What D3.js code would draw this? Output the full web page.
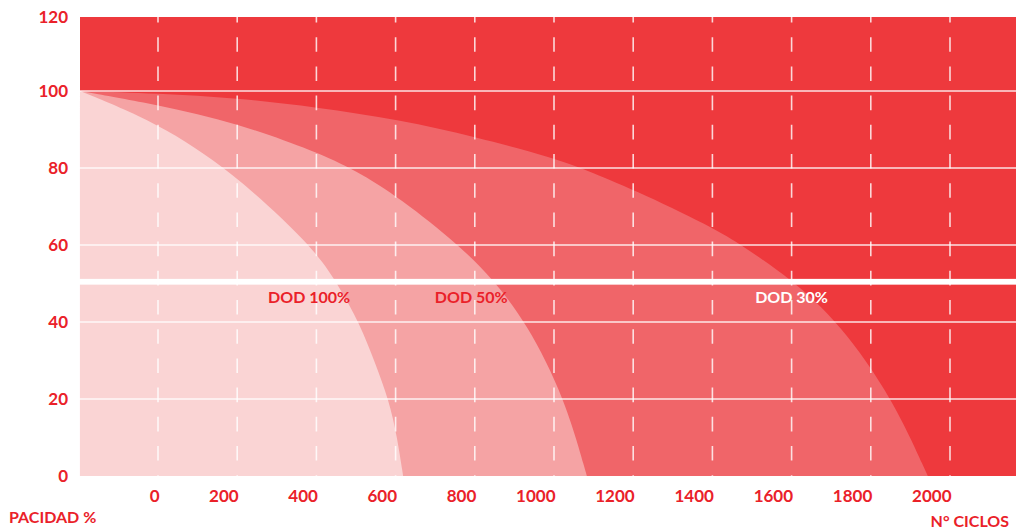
<!DOCTYPE html>
<html>
<head>
<meta charset="utf-8">
<script src="https://cdn.jsdelivr.net/npm/d3@7"></script>
<style>
  html, body { margin: 0; padding: 0; background: #ffffff; }
  svg { display: block; }
  text { font-family: Lato, "Open Sans", sans-serif; font-weight: 700; }
</style>
</head>
<body>
<svg id="chart" width="1016" height="531"></svg>
<script>
// ---- data ----
const xTicks = [0, 200, 400, 600, 800, 1000, 1200, 1400, 1600, 1800, 2000];
const yTicks = [0, 20, 40, 60, 80, 100, 120];
const seriesNames = ["DOD 30%", "DOD 50%", "DOD 100%"];

// [cycles, capacity %]
const dod30 = [[-197,100],[0,99.4],[199,98.2],[399,95.8],[611,92.5],[801,88.1],[1000,82.6],[1081,79.5],
  [1199,74.5],[1399,64.7],[1477,59.7],[1596,51.4],[1722,39.7],[1856,20.0],[1944,0]];
const dod50 = [[-197,100],[0,96.4],[199,91.7],[399,84.2],[497,79.5],[611,72.2],[763,59.7],
  [843,51.4],[932,39.7],[1028,20.0],[1083,0]];
const dod100 = [[-197,100],[0,91.7],[182,79.5],[391,59.7],[455,49.6],[510,39.5],[548,29.4],
  [583,19.7],[604,10.1],[619,0]];

const seriesData = [dod30, dod50, dod100];
// label anchor [cycles, capacity]
const labelAnchors = [[1508, 44.9], [699, 44.9], [278, 44.9]];

// ---- layout / style ----
const colors = { bg: "#EE393D", s: ["#F06569", "#F5A3A4", "#FAD4D4"], text: "#EA2129" };
const labelColors = ["#ffffff", colors.text, colors.text];

const svg = d3.select("#chart");
const plotLeft = 80, plotRight = 1016, plotTop = 17, plotBottom = 476;

const x = d3.scaleLinear().domain([0, 2000]).range([158, 950]);
const y = d3.scaleLinear().domain([0, 100, 120]).range([plotBottom, 91, plotTop]);

// background
svg.append("rect")
  .attr("x", plotLeft).attr("y", y(120))
  .attr("width", plotRight - plotLeft).attr("height", y(0) - y(120))
  .attr("fill", colors.bg);

// areas
const area = d3.area()
  .x(d => x(d[0]))
  .y0(y(0))
  .y1(d => y(d[1]))
  .curve(d3.curveBasis);

svg.selectAll("path.area")
  .data(seriesData)
  .join("path")
  .attr("class", "area")
  .attr("d", area)
  .attr("fill", (d, i) => colors.s[i]);

// horizontal grid lines
svg.selectAll("line.hgrid")
  .data(yTicks.filter(v => v > 0 && v < 120))
  .join("line")
  .attr("class", "hgrid")
  .attr("x1", plotLeft - 2).attr("x2", plotRight)
  .attr("y1", d => y(d)).attr("y2", d => y(d))
  .attr("stroke", "#ffffff").attr("stroke-opacity", 0.85).attr("stroke-width", 1.5);

// vertical dashed grid lines
svg.selectAll("line.vgrid")
  .data(xTicks)
  .join("line")
  .attr("class", "vgrid")
  .attr("x1", d => x(d)).attr("x2", d => x(d))
  .attr("y1", y(120) - 2).attr("y2", y(0) + 2)
  .attr("stroke", "#ffffff").attr("stroke-opacity", 0.8).attr("stroke-width", 1.6)
  .attr("stroke-dasharray", "14.6 14.6")
  .attr("stroke-dashoffset", 7);

// axis break band
svg.append("rect")
  .attr("x", plotLeft - 2).attr("y", y(51.2))
  .attr("width", plotRight - plotLeft + 2).attr("height", y(49.7) - y(51.2))
  .attr("fill", "#ffffff");

// y axis
const yAxis = d3.axisLeft(y).tickValues(yTicks).tickSize(0).tickPadding(12).tickFormat(d3.format("d"));
const gy = svg.append("g").attr("transform", `translate(${plotLeft},0)`).call(yAxis);
gy.select(".domain").remove();
gy.selectAll("text").attr("fill", colors.text).style("font-size", "17px")
  .style("font-family", "Lato, sans-serif").style("font-weight", 700);

// x axis
const xAxis = d3.axisBottom(x).tickValues(xTicks).tickSize(0).tickPadding(14).tickFormat(d3.format("d"));
const gx = svg.append("g").attr("transform", `translate(0,${plotBottom})`).call(xAxis);
gx.select(".domain").remove();
gx.selectAll("text").attr("fill", colors.text).attr("text-anchor", "end").attr("dx", 1)
  .style("font-size", "17px").style("font-family", "Lato, sans-serif").style("font-weight", 700);

// axis titles
svg.append("text").text("PACIDAD %")
  .attr("x", 9).attr("y", 523).attr("fill", colors.text).style("font-size", "16px");
svg.append("text").text("N° CICLOS")
  .attr("x", 1009).attr("y", 527).attr("text-anchor", "end").attr("fill", colors.text).style("font-size", "16px");

// series labels
svg.selectAll("text.slabel")
  .data(seriesNames)
  .join("text")
  .attr("class", "slabel")
  .text(d => d)
  .attr("x", (d, i) => x(labelAnchors[i][0]))
  .attr("y", (d, i) => y(labelAnchors[i][1]))
  .attr("fill", (d, i) => labelColors[i])
  .style("font-size", "16px");
</script>
</body>
</html>
